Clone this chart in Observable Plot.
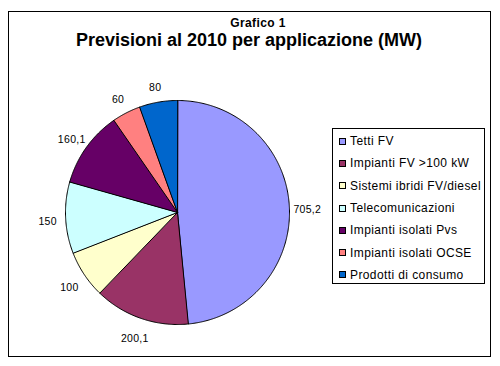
<!DOCTYPE html>
<html><head><meta charset="utf-8">
<script src="https://cdn.jsdelivr.net/npm/d3@7"></script>
<script src="https://cdn.jsdelivr.net/npm/@observablehq/plot@0.6"></script>
<style>
body{margin:0;background:#fff;font-family:Arial,"Liberation Sans",sans-serif;}
#wrap{position:relative;width:500px;height:366px;overflow:hidden;background:#fff;}
#frame{position:absolute;left:8px;top:11px;width:481px;height:344px;border:1px solid #000;}
#sup{position:absolute;left:208px;width:100px;top:16.5px;text-align:center;font-weight:bold;font-size:12px;line-height:12px;letter-spacing:0.4px;}
#title{position:absolute;left:0;width:498px;top:31px;text-align:center;font-weight:bold;font-size:18px;line-height:18px;}
#chart{position:absolute;left:0;top:0;}
#chart svg text{letter-spacing:0.3px;}
#legend{position:absolute;left:332px;top:128px;width:153px;height:156px;border:1px solid #000;background:#fff;padding-top:1px;box-sizing:border-box;}
.item{display:flex;align-items:center;height:22.3px;font-size:12px;white-space:nowrap;letter-spacing:0.4px;}
.sw{width:5px;height:5px;border:1px solid #000;margin-left:6px;margin-right:4px;flex:none;}
</style></head><body>
<div id="wrap">
<div id="frame"></div>
<div id="sup">Grafico 1</div>
<div id="title">Previsioni al 2010 per applicazione (MW)</div>
<div id="chart"></div>
<div id="legend"></div>
</div>
<script>
const categories = ["Tetti FV","Impianti FV >100 kW","Sistemi ibridi FV/diesel","Telecomunicazioni","Impianti isolati Pvs","Impianti isolati OCSE","Prodotti di consumo"];
const values = [705.2, 200.1, 100, 150, 160.1, 60, 80];
const colors = ["#9999FF","#993366","#FFFFCC","#CCFFFF","#660066","#FF8080","#0066CC"];

const data = categories.map((c,i)=>({cat:c, value:values[i]}));
const cx = 177, cy = 212, r = 112, lr = 130;
const arcs = d3.pie().sort(null).value(d=>d.value)(data);
const pts = [];
const lab = [];
arcs.forEach(a=>{
  const cat = a.data.cat;
  const span = a.endAngle - a.startAngle;
  const n = Math.max(2, Math.ceil(span/0.01));
  pts.push({cat, x:cx, y:cy});
  for(let i=0;i<=n;i++){
    const t = a.startAngle + span*i/n;
    pts.push({cat, x:cx + r*Math.sin(t), y:cy - r*Math.cos(t)});
  }
  const m = (a.startAngle + a.endAngle)/2;
  lab.push({x:cx + lr*Math.sin(m), y:cy - lr*Math.cos(m), text:String(a.data.value).replace(".", ",")});
});

const chart = Plot.plot({
  width:500, height:366, margin:0,
  style:{background:"transparent", fontFamily:"Arial, 'Liberation Sans', sans-serif"},
  x:{domain:[0,500], axis:null},
  y:{domain:[366,0], axis:null},
  color:{domain:categories, range:colors},
  marks:[
    Plot.line(pts, {x:"x", y:"y", z:"cat", fill:"cat", stroke:"#000", strokeWidth:1, curve:"linear-closed"}),
    Plot.text(lab, {x:"x", y:"y", text:"text", fontSize:10.5, fill:"#000", dy:3})
  ]
});
document.getElementById("chart").appendChild(chart);

const leg = document.getElementById("legend");
categories.forEach((c,i)=>{
  const row = document.createElement("div");
  row.className = "item";
  const sw = document.createElement("span");
  sw.className = "sw";
  sw.style.background = chart.scale("color").apply(c);
  const t = document.createElement("span");
  t.textContent = c;
  row.appendChild(sw); row.appendChild(t);
  leg.appendChild(row);
});
</script>
</body></html>
